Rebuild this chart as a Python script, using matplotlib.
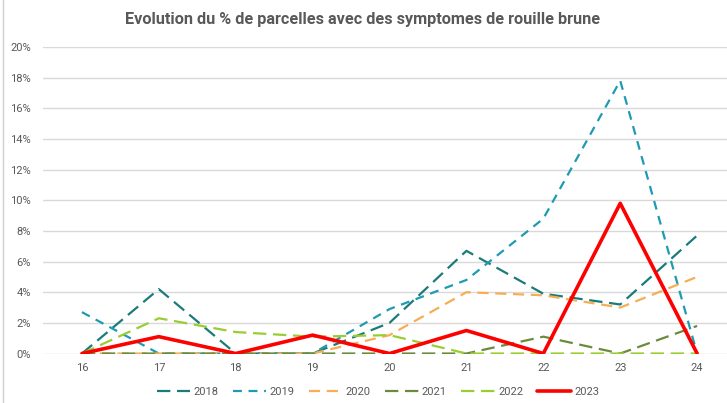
import matplotlib.pyplot as plt
from matplotlib.lines import Line2D
from matplotlib.ticker import PercentFormatter

semaines = [16, 17, 18, 19, 20, 21, 22, 23, 24]
annees = ['2018', '2019', '2020', '2021', '2022', '2023']
v2018 = [0, 4.2, 0, 0, 2.0, 6.7, 3.9, 3.2, 7.7]
v2019 = [2.7, 0, 0, 0, 2.9, 4.8, 8.8, 17.8, 0]
v2020 = [0, 0, 0, 0, 1.2, 4.0, 3.8, 3.0, 5.0]
v2021 = [0, 0, 0, 0, 0, 0, 1.1, 0, 1.8]
v2022 = [0, 2.3, 1.4, 1.1, 1.2, 0, 0, 0, 0]
v2023 = [0, 1.1, 0, 1.2, 0, 1.5, 0, 9.8, 0]

series = [v2018, v2019, v2020, v2021, v2022, v2023]
couleurs = ['#1B7B7B', '#1E9BB2', '#F6AE55', '#6B8B3C', '#9ACD32', '#FF0000']
styles = [(0, (6, 3)), (0, (4, 3)), (0, (5, 3)), (0, (6, 3)), (0, (6, 3)), '-']
epaisseurs = [1.6, 1.6, 1.6, 1.6, 1.6, 2.6]

gris = '#595959'
plt.rcParams['font.family'] = ['Roboto', 'DejaVu Sans']

fig = plt.figure(figsize=(7.27, 4.03), dpi=100)
ax = fig.add_axes([0.0598, 0.1228, 0.952, 0.7605])

for an, vals, c, ls, lw in zip(annees, series, couleurs, styles, epaisseurs):
    ax.plot(semaines, vals, color=c, linestyle=ls, linewidth=lw, label=an,
            solid_capstyle='round', zorder=3)

ax.set_xlim(15.5, 24.5)
ax.set_ylim(0, 20)
ax.set_yticks(range(0, 21, 2))
ax.yaxis.set_major_formatter(PercentFormatter(decimals=0))
ax.set_xticks(semaines)
ax.grid(axis='y', color='#D9D9D9', linewidth=1)
ax.set_axisbelow(True)
for s in ax.spines.values():
    s.set_visible(False)
ax.tick_params(length=0, colors=gris, labelsize=8)
ax.tick_params(axis='y', pad=9)
ax.tick_params(axis='x', pad=7)

fig.text(0.499, 0.952, 'Evolution du % de parcelles avec des symptomes de rouille brune',
         ha='center', va='center', fontsize=11.7, fontweight='bold', color=gris)

leg = fig.legend(loc='center', bbox_to_anchor=(0.52, 0.027), ncol=6, frameon=False,
                 fontsize=8, handlelength=3.0, columnspacing=1.3, handletextpad=0.3)
for t in leg.get_texts():
    t.set_color(gris)

fig.add_artist(Line2D([0.004, 0.004], [0, 1], color='#D0D0D0', linewidth=1,
                      transform=fig.transFigure))

fig.savefig('out.png', dpi=100)
